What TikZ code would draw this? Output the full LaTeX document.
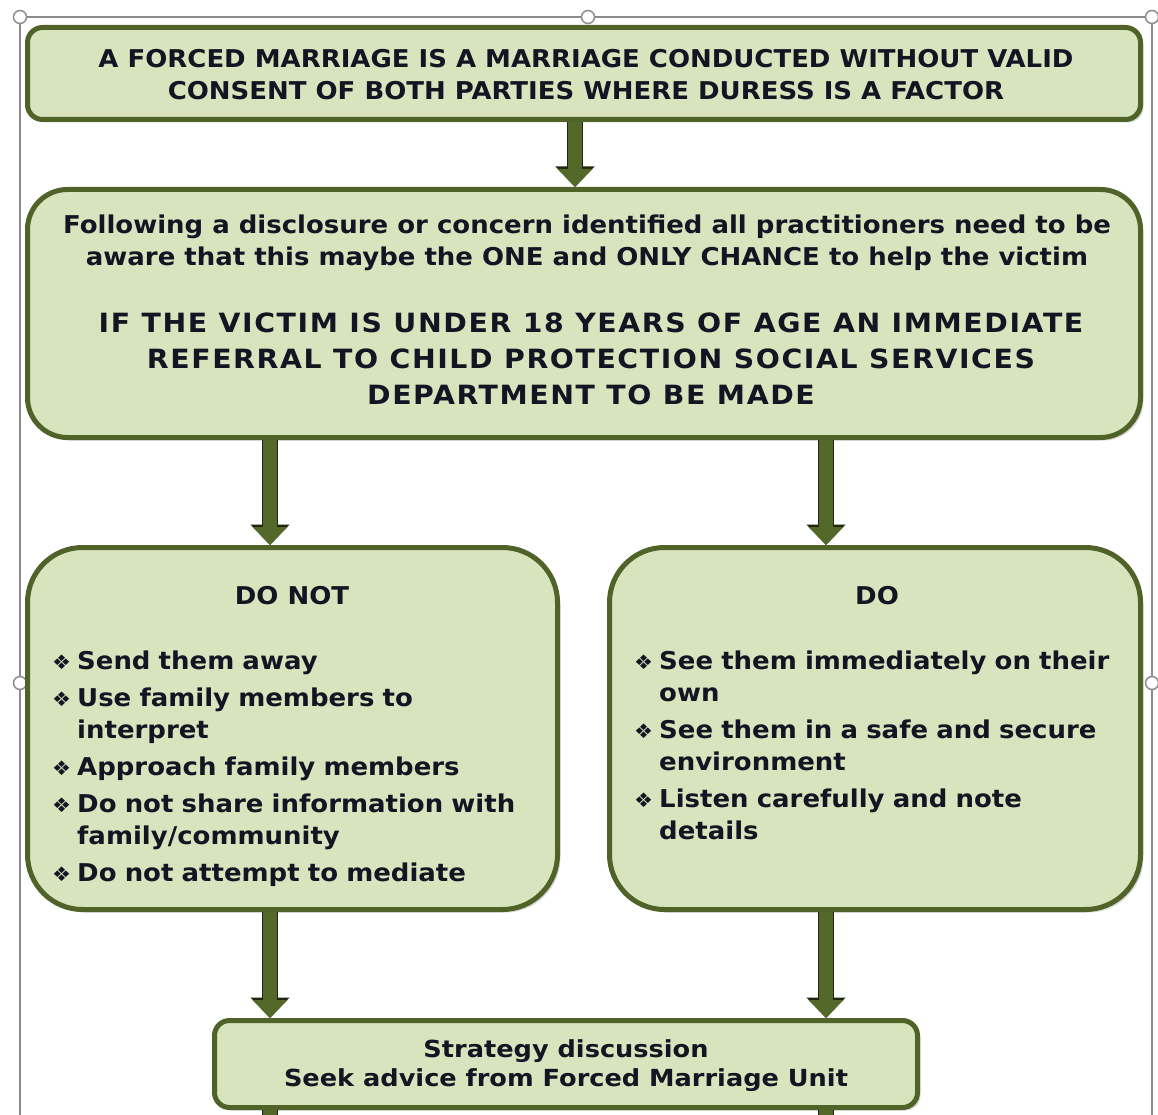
\documentclass[tikz,border=0pt]{standalone}
\usepackage{fontspec}
\setmainfont{DejaVu Sans}[FakeStretch=1.06]
\newfontfamily\spacedfont{DejaVu Sans}[LetterSpace=6, FakeStretch=1.07]
\newfontfamily\widefont{DejaVu Sans}[FakeStretch=1.09]
\usetikzlibrary{arrows.meta, positioning, shadows}
\definecolor{cFill}{RGB}{215,228,189}
\definecolor{cEdge}{RGB}{79,98,40}
\definecolor{cArrow}{RGB}{84,104,42}
\definecolor{cArrowEdge}{RGB}{30,38,14}
\definecolor{cFrame}{RGB}{140,140,140}
\definecolor{cText}{RGB}{20,20,35}
% list bullet and one list item with hanging indent
\newcommand{\bul}{\makebox[25pt][l]{\raisebox{0.5pt}{\fontsize{20}{20}\selectfont ❖}}}
\newcommand{\itm}[1]{\hangindent=25pt\hangafter=1\noindent\bul#1\par\vskip5pt}
\tikzset{
	box/.style      ={rectangle, draw=cEdge, line width=5pt, fill=cFill, inner sep=0pt,
	                  drop shadow={shadow xshift=3pt, shadow yshift=-3pt, opacity=0.3}},
	txt/.style      ={inner sep=0pt, text=cText, align=center, font=\bfseries\fontsize{24.5}{32}\selectfont},
	listtxt/.style  ={txt, align=left, text width=500pt},
	flowarrow/.style={draw=cArrow, line width=14pt, -{Triangle[width=34pt, length=18pt, fill=cArrow, color=cArrow]},
	                  preaction={draw=cArrowEdge, line width=16.5pt, -{Triangle[width=38pt, length=20.5pt]}}},
	handle/.style   ={circle, draw=cFrame, fill=white, line width=1.5pt, minimum size=13pt, inner sep=0pt},
}
\begin{document}
\begin{tikzpicture}[x=1pt, y=-1pt]
	\useasboundingbox (0,0) rectangle (1158,1115);
	% picture frame with its handles
	\draw[cFrame, line width=1.5pt] (20,1115) -- (20,17) -- (1152,17) -- (1152,1115);
	\foreach \p/\n in {(20,17)/tl,(588,17)/tm,(1152,17)/tr,(20,683)/ml,(1152,683)/mr}
		\node[handle] (h-\n) at \p {};

	% boxes
	\node[box, rounded corners=15pt, minimum width=1113pt, minimum height=92pt] (def) at (584,73.5) {};
	\node[box, rounded corners=40pt, minimum width=1113pt, minimum height=248pt] (disc) at (584,313.5) {};
	\node[box, rounded corners=55pt, minimum width=530pt, minimum height=362pt] (donot) at (292.5,728.5) {};
	\node[box, rounded corners=55pt, minimum width=531pt, minimum height=362pt] (do) at (875,728.5) {};
	\node[box, rounded corners=15pt, minimum width=703pt, minimum height=87pt] (strat) at (566,1064) {};

	% texts
	\node[txt] (def-t) at (586,75) {A FORCED MARRIAGE IS A MARRIAGE CONDUCTED WITHOUT VALID\\CONSENT OF BOTH PARTIES WHERE DURESS IS A FACTOR};
	\node[txt] (disc-t) at (587,243) {Following a disclosure or concern identified all practitioners need to be\\aware that this maybe the ONE and ONLY CHANCE to help the victim};
	\node[txt, font=\bfseries\spacedfont\fontsize{26.5}{36}\selectfont] (urgent-t) at (591,359) {IF THE VICTIM IS UNDER 18 YEARS OF AGE AN IMMEDIATE\\REFERRAL TO CHILD PROTECTION SOCIAL SERVICES\\DEPARTMENT TO BE MADE};
	\node[txt, anchor=base] (donot-h) at (292,604) {DO NOT};
	\node[txt, anchor=base] (do-h) at (877,604) {DO};
	\node[listtxt, anchor=north west] (donot-t) at (52,651) {%
		\itm{Send them away}
		\itm{Use family members to\newline interpret}
		\itm{Approach family members}
		\itm{Do not share information with\newline family/community}
		\itm{Do not attempt to mediate}};
	\node[listtxt, anchor=north west] (do-t) at (634,651) {%
		\itm{See them immediately on their\newline own}
		\itm{See them in a safe and secure\newline environment}
		\itm{Listen carefully and note\newline details}};
	\node[txt, font=\bfseries\widefont\fontsize{23.5}{29}\selectfont] (strat-t) at (566,1066) {Strategy discussion\\Seek advice from Forced Marriage Unit};

	% arrows
	\coordinate (colM) at (575,0);
	\coordinate (colL) at (270,0);
	\coordinate (colR) at (826,0);
	\coordinate (endL) at (270,1115);
	\coordinate (endR) at (826,1115);
	\draw[flowarrow] (def.south -| colM) -- (disc.north -| colM);
	\draw[flowarrow] (disc.south -| colL) -- (donot.north -| colL);
	\draw[flowarrow] (disc.south -| colR) -- (do.north -| colR);
	\draw[flowarrow] (donot.south -| colL) -- (strat.north -| colL);
	\draw[flowarrow] (do.south -| colR) -- (strat.north -| colR);
	\draw[draw=cArrowEdge, line width=16.5pt] (strat.south -| colL) -- (endL);
	\draw[draw=cArrow, line width=14pt] (strat.south -| colL) -- (endL);
	\draw[draw=cArrowEdge, line width=16.5pt] (strat.south -| colR) -- (endR);
	\draw[draw=cArrow, line width=14pt] (strat.south -| colR) -- (endR);
\end{tikzpicture}
\end{document}
